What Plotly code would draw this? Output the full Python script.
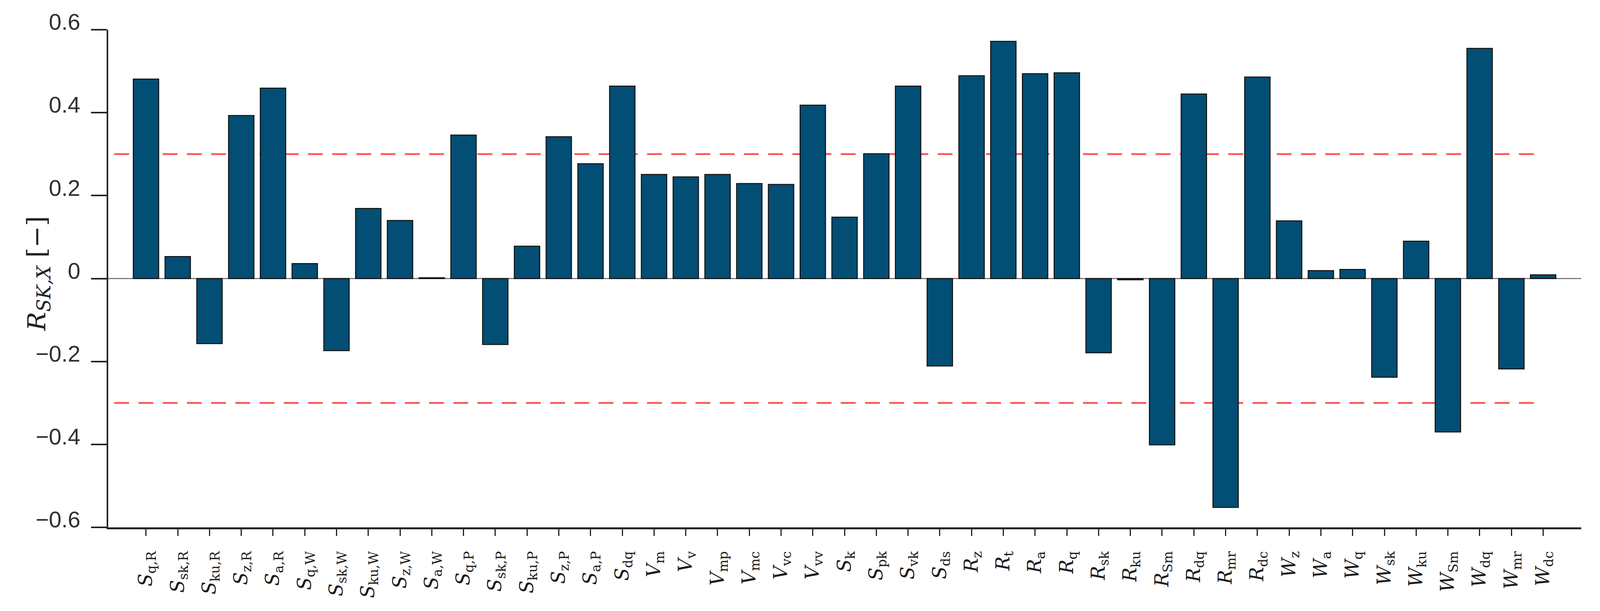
import plotly.graph_objects as go

# ---- data ----
main_symbols = ["S", "S", "S", "S", "S", "S", "S", "S", "S", "S",
                "S", "S", "S", "S", "S", "S",
                "V", "V", "V", "V", "V", "V",
                "S", "S", "S", "S",
                "R", "R", "R", "R", "R", "R", "R", "R", "R", "R",
                "W", "W", "W", "W", "W", "W", "W", "W", "W"]
subscripts = ["q,R", "sk,R", "ku,R", "z,R", "a,R",
              "q,W", "sk,W", "ku,W", "z,W", "a,W",
              "q,P", "sk,P", "ku,P", "z,P", "a,P",
              "dq",
              "m", "v", "mp", "mc", "vc", "vv",
              "k", "pk", "vk", "ds",
              "z", "t", "a", "q", "sk", "ku", "Sm", "dq", "mr", "dc",
              "z", "a", "q", "sk", "ku", "Sm", "dq", "mr", "dc"]
values = [0.481, 0.053, -0.157, 0.393, 0.459, 0.036, -0.174, 0.169, 0.140, 0.002,
          0.346, -0.159, 0.078, 0.342, 0.277, 0.464,
          0.251, 0.245, 0.251, 0.229, 0.227, 0.418,
          0.148, 0.301, 0.464, -0.211,
          0.489, 0.572, 0.494, 0.496, -0.179, -0.003, -0.401, 0.445, -0.552, 0.486,
          0.139, 0.019, 0.022, -0.238, 0.090, -0.370, 0.555, -0.218, 0.009]
thresholds = [0.3, -0.3]
y_tickvals = [-0.6, -0.4, -0.2, 0, 0.2, 0.4, 0.6]
y_ticktext = ["\u22120.6", "\u22120.4", "\u22120.2", "0", "0.2", "0.4", "0.6"]
y_title = ("<i>R</i><sub><span style='font-size:48px'><i>SK,X</i></span></sub>"
           " <span style='font-size:66px'>[\u2212]</span>")

x_idx = list(range(len(values)))
x_labels = [f"<i>{m}</i><sub>{s}</sub>" for m, s in zip(main_symbols, subscripts)]

# the page viewport is 4096 x 1563
W, H = 4096, 1563
L, R, T, B = 277, 48, 76, 214
plot_w = W - L - R
plot_h = H - T - B

fig = go.Figure()
fig.add_trace(go.Bar(
    x=x_idx, y=values,
    marker=dict(color="#024E74", line=dict(color="#111111", width=2.5)),
    width=0.8,
))

for t in thresholds:
    fig.add_shape(type="line", xref="x", yref="y", x0=-1, x1=len(values) - 1,
                  y0=t, y1=t, layer="below",
                  line=dict(color="rgba(255,72,72,0.95)", width=4.5, dash="38px,24px"))

fig.add_annotation(
    text=y_title,
    xref="paper", yref="paper", x=(97 - L) / plot_w, y=(H - B - 700) / plot_h,
    xanchor="center", yanchor="middle", textangle=-90, showarrow=False,
    font=dict(family="DejaVu Serif", size=64, color="#222222"),
)

fig.update_layout(
    width=W, height=H,
    margin=dict(l=L, r=R, t=T, b=B, autoexpand=False),
    plot_bgcolor="white", paper_bgcolor="white",
    showlegend=False,
)
fig.update_xaxes(
    range=[-1.19, len(values) - 1 + 1.20],
    tickmode="array", tickvals=x_idx, ticktext=x_labels,
    tickangle=-90,
    tickfont=dict(family="DejaVu Serif", size=48, color="#1a1a1a"),
    ticks="outside", ticklen=17, tickwidth=3, tickcolor="#222222",
    showline=True, linecolor="#222222", linewidth=4.5,
    showgrid=False, zeroline=False, automargin=False,
    ticklabelstandoff=20,
)
fig.update_yaxes(
    range=[-0.6, 0.6],
    tickmode="array", tickvals=y_tickvals, ticktext=y_ticktext,
    tickfont=dict(family="Liberation Sans", size=58, color="#303030"),
    ticks="outside", ticklen=40, tickwidth=3.5, tickcolor="#222222",
    showline=True, linecolor="#222222", linewidth=3.5,
    showgrid=False,
    zeroline=True, zerolinecolor="#808080", zerolinewidth=3,
    automargin=False,
    ticklabelstandoff=16,
    ticklabelshift=-20,
)

page_css = """
document.body.style.margin = '0';
document.body.style.overflow = 'hidden';
"""
fig.write_html("out.html", post_script=page_css, config={"displayModeBar": False})
